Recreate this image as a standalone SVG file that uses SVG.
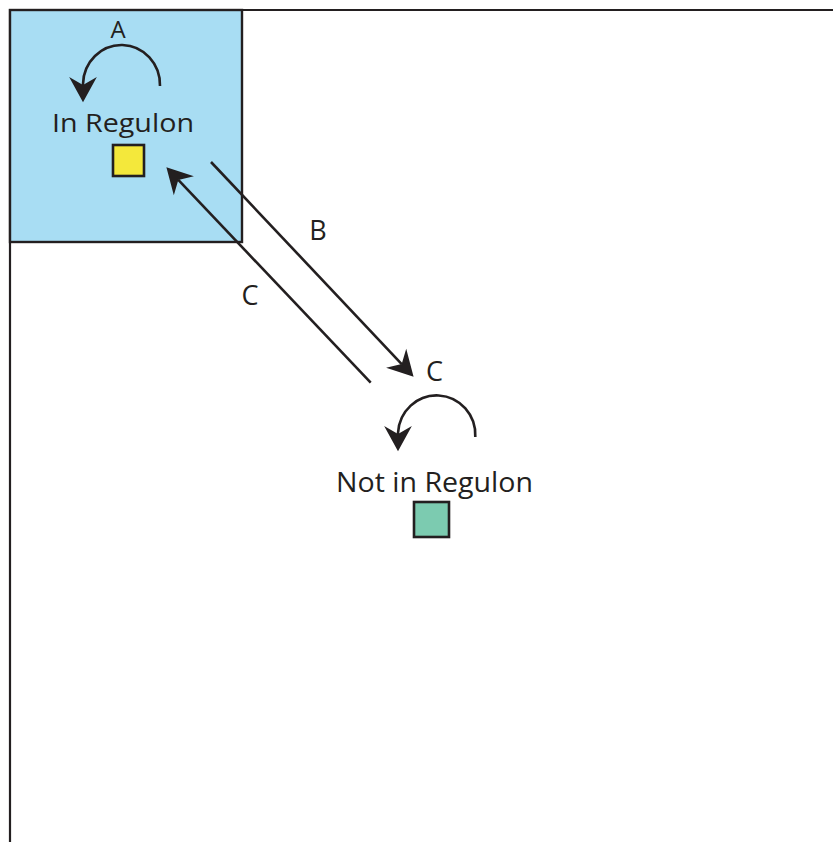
<svg xmlns="http://www.w3.org/2000/svg" width="833" height="842" viewBox="0 0 833 842">
<style>
.ln{fill:none;stroke:#231f20;stroke-width:2.6}
.fr{fill:none;stroke:#231f20;stroke-width:2.2}
.t{font-family:"Open Sans","Liberation Sans",sans-serif;fill:#231f20;text-anchor:middle}
.sq{stroke:#231f20;stroke-width:2.6}
</style>
<defs>
<marker id="ah" markerUnits="userSpaceOnUse" markerWidth="30" markerHeight="30" viewBox="0 -13 24 26" refX="7" refY="0" orient="auto" overflow="visible">
<path d="M22,0 L0,-12 L7,0 L0,12 Z" fill="#231f20"/>
</marker>
</defs>
<rect width="833" height="842" fill="#fff"/>
<g id="frame">
<path class="fr" d="M10,842 V10 H833"/>
</g>
<g id="in-regulon">
<rect x="10" y="10" width="232" height="232" fill="#a8ddf3" stroke="#231f20" stroke-width="2.4"/>
<text class="t" x="123" y="132" font-size="26" textLength="142" lengthAdjust="spacingAndGlyphs">In Regulon</text>
<rect class="sq" x="113" y="145" width="31" height="31" fill="#f4e83b"/>
</g>
<g id="not-in-regulon">
<text class="t" x="434.5" y="492" font-size="28" textLength="197" lengthAdjust="spacingAndGlyphs">Not in Regulon</text>
<rect class="sq" x="414" y="502" width="35" height="35" fill="#7ccbb0"/>
</g>
<g id="connectors">
<path class="ln" d="M160,86 A38.5,40 0 0 0 83,84 L83,85" marker-end="url(#ah)"/>
<path class="ln" d="M475.3,437 A38.6,39.5 0 0 0 398,433 L398,434" marker-end="url(#ah)"/>
<path class="ln" d="M211,162 L401.7,364.1" marker-end="url(#ah)"/>
<path class="ln" d="M370.7,382.7 L178.3,179.9" marker-end="url(#ah)"/>
<text class="t" x="118" y="38" font-size="24">A</text>
<text class="t" x="318" y="240" font-size="27">B</text>
<text class="t" x="250" y="305" font-size="27">C</text>
<text class="t" x="434.5" y="381" font-size="27">C</text>
</g>
</svg>
